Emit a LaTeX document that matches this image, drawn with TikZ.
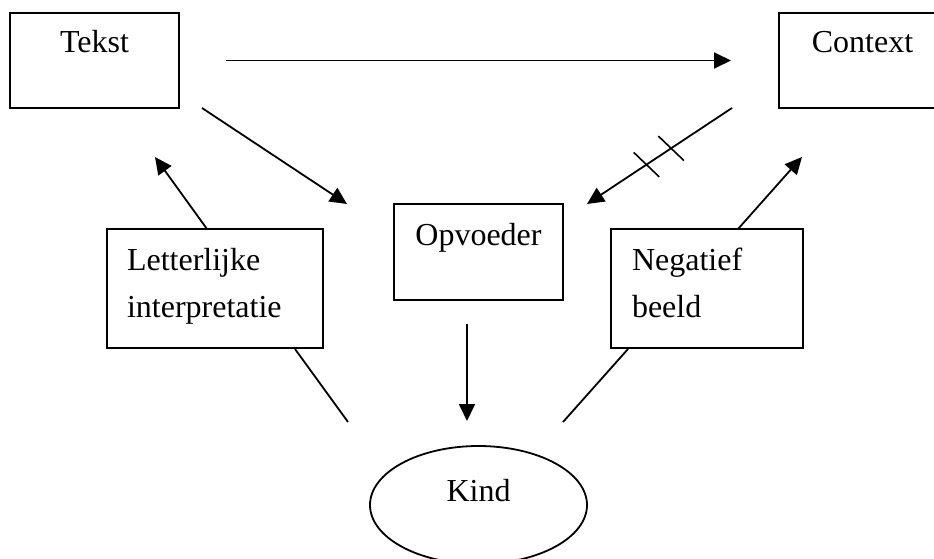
\documentclass[tikz,border=0pt]{standalone}
\usepackage{fontspec}
\setmainfont{Liberation Serif}
\usetikzlibrary{arrows.meta,calc,shapes.geometric,decorations.markings}
\begin{document}
\begin{tikzpicture}[x=1pt,y=-1pt,
  ln/.style={line width=1.8pt},
  arr/.style={ln,-{Triangle[length=17pt,width=16pt]}},
  tick/.style={line width=1.6pt,arrows=-},
  box/.style={draw,line width=1.8pt,anchor=north west,outer sep=0pt,
    font=\fontsize{32}{47}\selectfont,text height=30pt},
  kindbox/.style={draw,ellipse,line width=1.8pt,inner sep=0pt,outer sep=0pt,
    minimum width=217pt,minimum height=118pt,
    font=\fontsize{32}{47}\selectfont,text height=22pt,text depth=30pt}]
\useasboundingbox (0,0) rectangle (934,559);

\node[box,minimum width=169pt,inner ysep=10pt,text depth=45pt] (tekst) at (10,13) {Tekst};
\node[box,minimum width=167pt,inner ysep=10pt,text depth=45pt] (context) at (779,13) {Context};
\node[box,minimum width=169pt,inner ysep=11pt,text depth=44pt] (opv) at (394,204) {Opvoeder};
\node[box,text width=176pt,inner xsep=20pt,inner ysep=11pt,text depth=67pt,align=left] (lett) at (107,229) {Letterlijke\\interpretatie};
\node[box,text width=150pt,inner xsep=21pt,inner ysep=11pt,text depth=67pt,align=left] (neg) at (611,229) {Negatief\\beeld};
\node[kindbox] (kind) at (478.5,505) {Kind};

% free ends
\coordinate (t1) at ($(tekst.south east)+(23,0)$);
\coordinate (o1) at ($(opv.north west)+(-47,0)$);
\coordinate (c1) at ($(context.south west)+(-47,0)$);
\coordinate (o2) at ($(opv.north east)+(24,0)$);
\coordinate (l1) at ($(lett.north west)+(100,0)$);
\coordinate (t2) at ($(tekst.south west)+(145,49)$);
\coordinate (n1) at ($(neg.north west)+(127,0)$);
\coordinate (c2) at ($(context.south west)+(23,49)$);
\coordinate (o3) at ($(opv.south -| kind.north)+(-11.5,24)$);
\coordinate (k1) at ($(kind.north)+(-11.5,-25)$);
\coordinate (l2) at ($(lett.south east)+(-28,1)$);
\coordinate (k2) at ($(kind.north)+(-130.5,-24)$);
\coordinate (n2) at ($(neg.south west)+(17,1)$);
\coordinate (k3) at ($(kind.north)+(84.5,-24)$);

\draw[arr,shorten <=47pt,shorten >=48pt] (tekst.east) -- (context.west);
\draw[arr] (t1) -- (o1);
\draw[arr,postaction={decorate,decoration={markings,
   mark=at position 0.42 with {\draw[tick] (3.9pt,-17.3pt) -- (-3.9pt,17.3pt);},
   mark=at position 0.59 with {\draw[tick] (3.9pt,-17.3pt) -- (-3.9pt,17.3pt);}}}] (c1) -- (o2);
\draw[arr] (l1) -- (t2);
\draw[arr] (n1) -- (c2);
\draw[arr] (o3) -- (k1);
\draw[ln] (l2) -- (k2);
\draw[ln] (n2) -- (k3);
\end{tikzpicture}
\end{document}
